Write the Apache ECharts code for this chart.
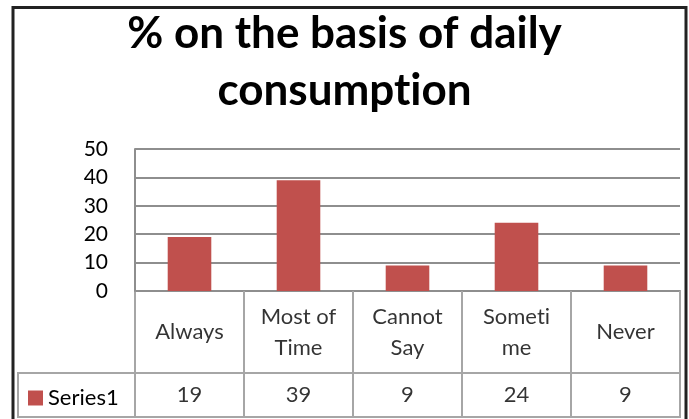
<!DOCTYPE html>
<html>
<head>
<meta charset="utf-8">
<script src="https://cdn.jsdelivr.net/npm/echarts@6/dist/echarts.min.js"></script>
<style>
  html, body { margin: 0; padding: 0; background: #fff; }
  #chart { width: 689px; height: 419px; }
</style>
</head>
<body>
<div id="chart"></div>
<script>
// Daily consumption shares, drawn as a column chart with a data table underneath
const categories = ['Always', 'Most of\nTime', 'Cannot\nSay', 'Someti\nme', 'Never'];
const seriesName = 'Series1';
const values = [19, 39, 9, 24, 9];
const yTicks = [0, 10, 20, 30, 40, 50];
const titleText = '% on the basis of daily\nconsumption';

const BAR = '#C0504D';
const GRID_LINE = '#8e8e8e';
const TABLE_LINE = '#a6a6a6';
const FONT = 'Lato, "Open Sans", sans-serif';

// keep "t" and "i" as separate glyphs (the font would otherwise join them)
const noLigature = (s) => s.replace(/ti/g, 't\u200Ci');

const chart = echarts.init(document.getElementById('chart'));

const hiddenValueAxis = (gridIndex) => ({
  type: 'value', gridIndex, min: -1, max: 1, show: false
});

chart.setOption({
  animation: false,
  title: {
    text: noLigature(titleText),
    left: 'center',
    top: 0,
    textStyle: {
      fontFamily: FONT, fontWeight: 'bold', fontSize: 44,
      lineHeight: 57, color: '#000'
    }
  },
  legend: {
    data: [seriesName],
    left: 23, top: 382,
    icon: 'rect', itemWidth: 15, itemHeight: 15, itemGap: 6,
    textStyle: { fontFamily: FONT, fontSize: 22, color: '#000' }
  },
  grid: [
    // plot area
    { left: 135, right: 9, top: 149, bottom: 128 },
    // category names row of the data table
    { left: 135, right: 9, top: 291, height: 82, show: true, borderColor: TABLE_LINE, borderWidth: 2 },
    // values row of the data table
    { left: 135, right: 9, top: 373, height: 44, show: true, borderColor: TABLE_LINE, borderWidth: 2 },
    // row header (legend key) cell
    { left: 18, width: 117, top: 373, height: 44, show: true, borderColor: TABLE_LINE, borderWidth: 2 }
  ],
  xAxis: [
    {
      type: 'category', gridIndex: 0, data: categories,
      axisLine: { show: false }, axisTick: { show: false }, axisLabel: { show: false }
    },
    {
      type: 'category', gridIndex: 1, data: categories,
      axisLine: { show: false }, axisTick: { show: false }, axisLabel: { show: false },
      splitLine: { show: true, lineStyle: { color: TABLE_LINE, width: 2 } }
    },
    {
      type: 'category', gridIndex: 2, data: categories,
      axisLine: { show: false }, axisTick: { show: false }, axisLabel: { show: false },
      splitLine: { show: true, lineStyle: { color: TABLE_LINE, width: 2 } }
    },
    { type: 'category', gridIndex: 3, data: [''], show: false }
  ],
  yAxis: [
    {
      type: 'value', gridIndex: 0,
      min: yTicks[0], max: yTicks[yTicks.length - 1], interval: 10,
      axisLine: { show: true, lineStyle: { color: GRID_LINE, width: 2 } },
      axisTick: { show: false },
      axisLabel: {
        margin: 27, fontFamily: FONT, fontSize: 21, color: '#000'
      },
      splitLine: { show: true, lineStyle: { color: GRID_LINE, width: 2 } }
    },
    hiddenValueAxis(1),
    hiddenValueAxis(2),
    hiddenValueAxis(3)
  ],
  series: [
    {
      name: seriesName,
      type: 'bar',
      xAxisIndex: 0, yAxisIndex: 0,
      data: values,
      barCategoryGap: '60%',
      itemStyle: { color: BAR }
    },
    {
      name: 'table-categories',
      type: 'scatter',
      xAxisIndex: 1, yAxisIndex: 1,
      symbolSize: 0,
      silent: true,
      data: categories.map((c) => [c, 0]),
      label: {
        show: true, position: 'inside',
        formatter: (p) => noLigature(p.value[0]),
        fontFamily: FONT, fontSize: 22, lineHeight: 31, color: '#000', align: 'center'
      }
    },
    {
      name: 'table-values',
      type: 'scatter',
      xAxisIndex: 2, yAxisIndex: 2,
      symbolSize: 0,
      silent: true,
      data: values.map((v, i) => [categories[i], 0, v]),
      label: {
        show: true, position: 'inside',
        formatter: (p) => String(p.value[2]),
        fontFamily: FONT, fontSize: 22, color: '#000'
      }
    }
  ],
  graphic: [
    {
      // outer chart frame
      type: 'rect',
      shape: { x: 13, y: 7.5, width: 673, height: 420 },
      style: { fill: 'none', stroke: '#222', lineWidth: 3 },
      silent: true
    }
  ]
});
</script>
</body>
</html>
